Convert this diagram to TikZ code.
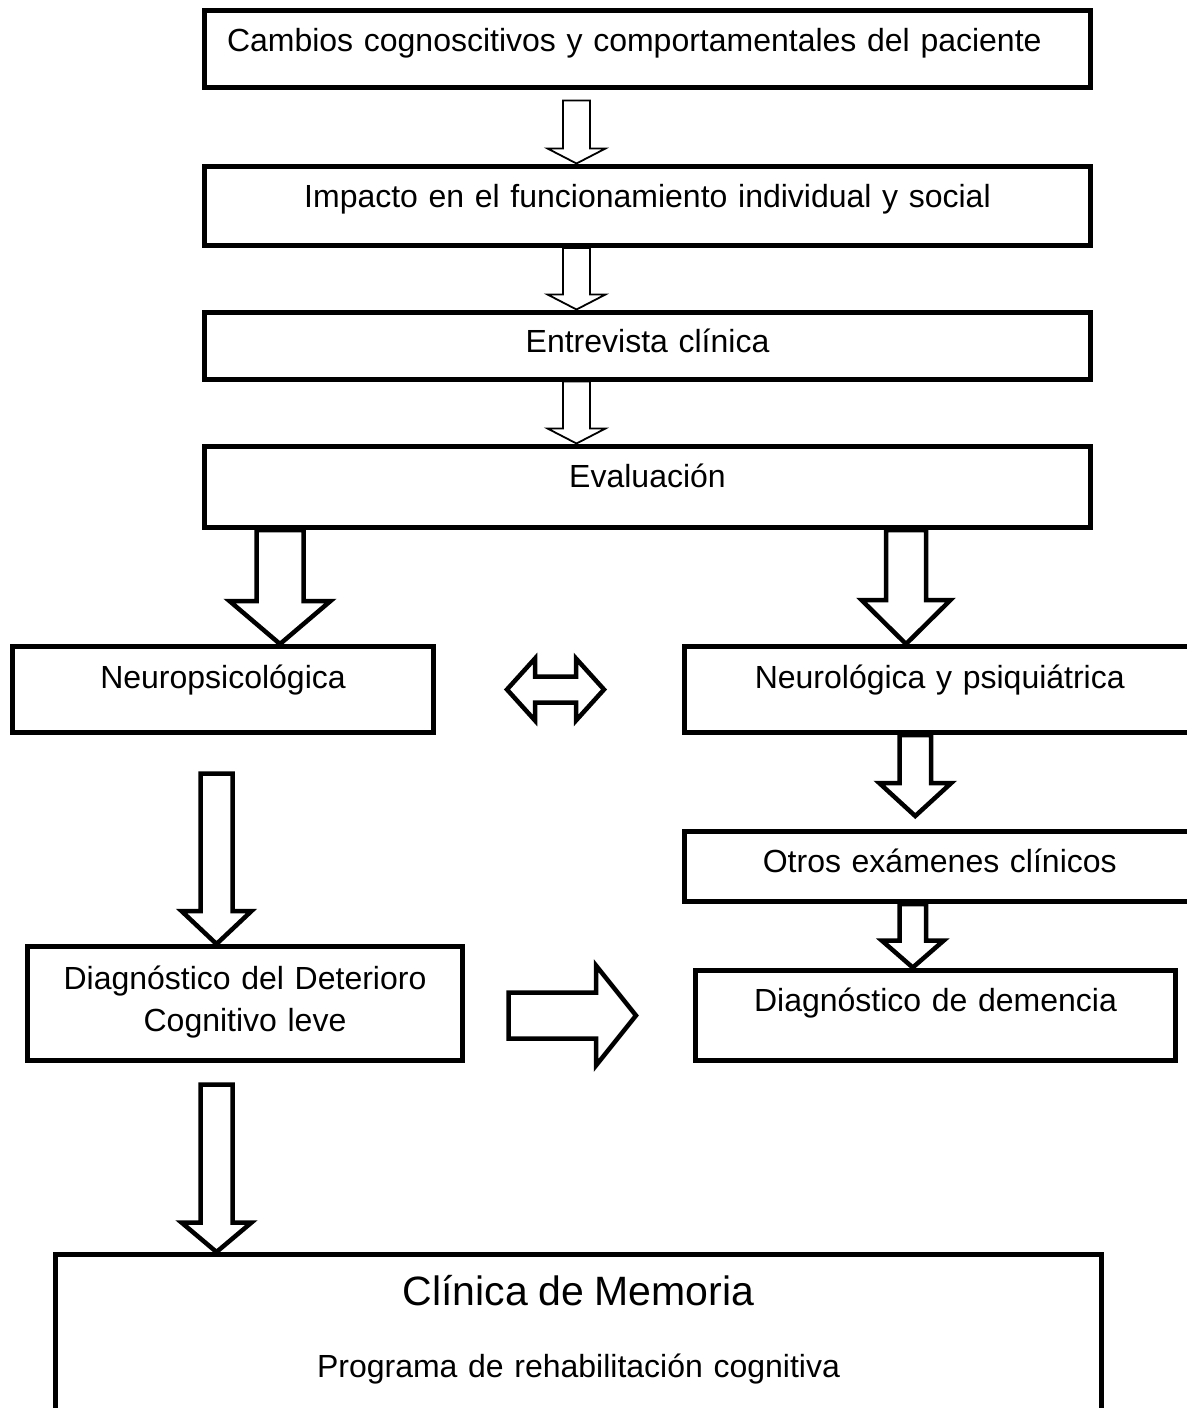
\documentclass[tikz,border=0pt]{standalone}
\usepackage{fontspec}
\setmainfont{Liberation Sans}
\usetikzlibrary{calc}

\tikzset{
    box/.style={draw, line width=5pt, anchor=north west, inner sep=0pt, align=center,
        font=\fontsize{32}{42}\selectfont},
    fatarrow/.style={draw, line width=4.5pt, line join=miter},
    thinarrow/.style={draw, line width=1.8pt, line join=miter}
}

% open block arrows: start, tip, half shaft, half head, head length
\newcommand{\blockdown}[6][fatarrow]{%
    \draw[#1] let \p1=(#2), \p2=(#3) in
        (\x1-#4pt,\y1) -- (\x1-#4pt,\y2+#6pt) -- (\x1-#5pt,\y2+#6pt) -- (\x1,\y2)
        -- (\x1+#5pt,\y2+#6pt) -- (\x1+#4pt,\y2+#6pt) -- (\x1+#4pt,\y1) -- cycle;}
\newcommand{\blockright}[6][fatarrow]{%
    \draw[#1] let \p1=(#2), \p2=(#3) in
        (\x1,\y1+#4pt) -- (\x2-#6pt,\y1+#4pt) -- (\x2-#6pt,\y1+#5pt) -- (\x2,\y1)
        -- (\x2-#6pt,\y1-#5pt) -- (\x2-#6pt,\y1-#4pt) -- (\x1,\y1-#4pt) -- cycle;}
\newcommand{\blockboth}[6][fatarrow]{%
    \draw[#1] let \p1=(#2), \p2=(#3) in
        (\x1,\y1) -- (\x1+#6pt,\y1+#5pt) -- (\x1+#6pt,\y1+#4pt) -- (\x2-#6pt,\y1+#4pt)
        -- (\x2-#6pt,\y1+#5pt) -- (\x2,\y1) -- (\x2-#6pt,\y1-#5pt) -- (\x2-#6pt,\y1-#4pt)
        -- (\x1+#6pt,\y1-#4pt) -- (\x1+#6pt,\y1-#5pt) -- cycle;}

\begin{document}
\begin{tikzpicture}[x=1pt, y=1pt]
    \useasboundingbox (0,0) rectangle (1186,-1408);

    \node[box, align=left, inner xsep=22.5pt, text width=841pt, text height=41.7pt, text depth=35.8pt] (cambios) at (202,-7.5) {Cambios cognoscitivos y comportamentales del paciente};
    \node[box, text width=886pt, text height=41.5pt, text depth=38pt] (impacto) at (202,-163.5) {Impacto en el funcionamiento individual y social};
    \node[box, text width=886pt, text height=40.5pt, text depth=26.5pt] (entrevista) at (202,-309.5) {Entrevista clínica};
    \node[box, text width=886pt, text height=41pt, text depth=40.5pt] (evaluacion) at (202,-443.5) {Evaluación};
    \node[box, text width=421pt, text height=41.5pt, text depth=44.5pt] (neuro) at (10,-644) {Neuropsicológica};
    \node[box, text width=510.5pt, text height=41.5pt, text depth=44.5pt] (neurol) at (682,-644) {Neurológica y psiquiátrica};
    \node[box, text width=510.5pt, text height=41pt, text depth=29.5pt] (otros) at (682,-828.5) {Otros exámenes clínicos};
    \node[box, text width=480pt, text height=41pt, text depth=49.5pt] (demencia) at (693,-967.5) {Diagnóstico de demencia};
    \node[box, text width=435pt, text height=42.5pt, text depth=71.5pt] (dcl) at (25,-944) {Diagnóstico del Deterioro\\Cognitivo leve};
    \node[box, text width=1046pt, text height=50.5pt, text depth=115pt] (clinica) at (53,-1252) {{\fontsize{41}{42}\selectfont Clínica de Memoria}\\[30pt]Programa de rehabilitación cognitiva};

    \blockdown[thinarrow]{$(cambios.south)+(-71,-10.5)$}{impacto.north}{13.5}{29}{15}
    \blockdown[thinarrow]{$(impacto.south)+(-71,0)$}{entrevista.north}{13.5}{29}{15}
    \blockdown[thinarrow]{$(entrevista.south)+(-71,0)$}{evaluacion.north}{13.5}{29}{15}
    \blockdown{$(evaluacion.south west)+(78,0)$}{neuro.north}{23.5}{50.5}{43}
    \blockdown{$(evaluacion.south west)+(704,0)$}{neurol.north}{20}{44.5}{44}
    \blockdown{$(neurol.south west)+(233.25,0)$}{$(otros.north)+(0,12.5)$}{15.75}{36}{33}
    \blockdown{$(otros.south west)+(230.75,0)$}{demencia.north}{13.25}{31}{27}
    \blockdown{$(neuro.south)+(-6.5,-38.5)$}{dcl.north}{16}{35}{33}
    \blockdown{$(dcl.south)+(-28.5,-21.5)$}{clinica.north}{16}{35}{29.5}
    \blockright{$(dcl.east)+(43.5,-12)$}{$(demencia.west)+(-57,0)$}{23}{50}{40}
    \blockboth{$(neuro.east)+(71,0)$}{$(neurol.west)+(-78,0)$}{13}{31}{28}
\end{tikzpicture}
\end{document}
